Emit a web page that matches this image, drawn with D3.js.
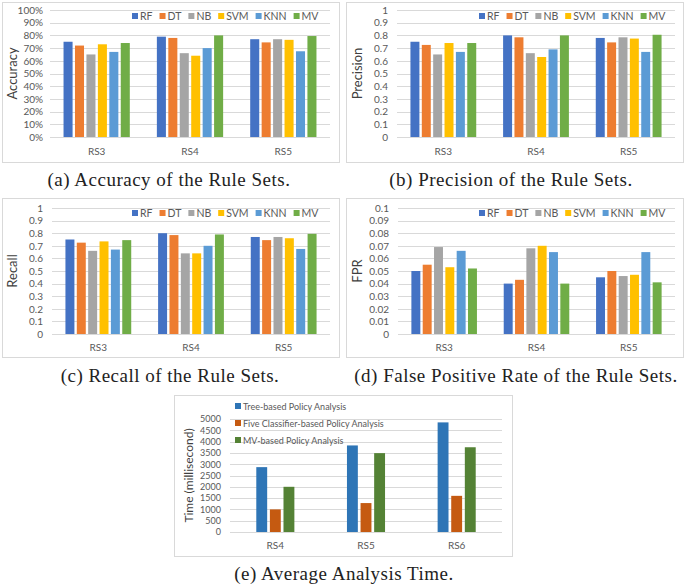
<!DOCTYPE html>
<html><head><meta charset="utf-8">
<script src="https://cdn.jsdelivr.net/npm/d3@7"></script>
<style>
html,body{margin:0;padding:0;background:#fff;}
svg{display:block;}
</style></head>
<body><svg id="chart" width="685" height="588"></svg>
<script>
// ---------- data ----------
const ruleSets = ["RS3", "RS4", "RS5"];
const classifiers = ["RF", "DT", "NB", "SVM", "KNN", "MV"];
const accuracy = [
  [0.75, 0.72, 0.65, 0.73, 0.67, 0.74],
  [0.79, 0.78, 0.66, 0.64, 0.70, 0.80],
  [0.77, 0.745, 0.77, 0.765, 0.675, 0.795]
];
const precision = [
  [0.75, 0.725, 0.65, 0.74, 0.67, 0.74],
  [0.80, 0.785, 0.66, 0.63, 0.69, 0.80],
  [0.78, 0.745, 0.785, 0.775, 0.67, 0.805]
];
const recall = [
  [0.75, 0.725, 0.66, 0.735, 0.67, 0.745],
  [0.80, 0.785, 0.64, 0.64, 0.70, 0.79],
  [0.77, 0.745, 0.77, 0.76, 0.675, 0.795]
];
const fpr = [
  [0.050, 0.055, 0.069, 0.053, 0.066, 0.052],
  [0.040, 0.043, 0.068, 0.070, 0.065, 0.040],
  [0.045, 0.050, 0.046, 0.047, 0.065, 0.041]
];
const timeSets = ["RS4", "RS5", "RS6"];
const timeMethods = ["Tree-based Policy Analysis", "Five Classifier-based Policy Analysis", "MV-based Policy Analysis"];
const timeValues = [
  [2870, 1000, 2000],
  [3830, 1280, 3490],
  [4850, 1600, 3750]
];
const ticksPct = [0, 0.1, 0.2, 0.3, 0.4, 0.5, 0.6, 0.7, 0.8, 0.9, 1];
const ticksFpr = [0, 0.01, 0.02, 0.03, 0.04, 0.05, 0.06, 0.07, 0.08, 0.09, 0.1];
const ticksTime = [0, 500, 1000, 1500, 2000, 2500, 3000, 3500, 4000, 4500, 5000];
const captions = [
  "(a) Accuracy of the Rule Sets.",
  "(b) Precision of the Rule Sets.",
  "(c) Recall of the Rule Sets.",
  "(d) False Positive Rate of the Rule Sets.",
  "(e) Average Analysis Time."
];

// ---------- styles ----------
const clsColors = ["#4472C4", "#ED7D31", "#A5A5A5", "#FFC000", "#5B9BD5", "#70AD47"];
const timeColors = ["#2E75B6", "#C55A11", "#548235"];
const FONT = "Lato, 'Open Sans', sans-serif";
const SERIF = "'Liberation Serif', 'DejaVu Serif', serif";
const TXT = "#595959";
const GRID = "#D9D9D9";

const svg = d3.select("#chart");

function panel(o) {
  const g = svg.append("g");
  // frame
  g.append("rect").attr("x", o.box[0] + 0.5).attr("y", o.box[1] + 0.5)
    .attr("width", o.box[2]).attr("height", o.box[3])
    .attr("fill", "#fff").attr("stroke", "#D9D9D9").attr("stroke-width", 1);

  const x0 = d3.scaleBand().domain(o.cats).range([o.px0, o.px1]).paddingInner(0).paddingOuter(0);
  const inner = x0.bandwidth() * o.groupFrac;
  const x1 = d3.scaleBand().domain(o.series).range([(x0.bandwidth() - inner) / 2, (x0.bandwidth() + inner) / 2])
    .paddingInner(o.barGap).paddingOuter(0);
  const y = d3.scaleLinear().domain(o.domain).range([o.py1, o.py0]);

  // gridlines
  g.append("g").selectAll("line").data(o.ticks).join("line")
    .attr("x1", o.px0).attr("x2", o.px1)
    .attr("y1", d => Math.round(y(d)) + 0.5).attr("y2", d => Math.round(y(d)) + 0.5)
    .attr("stroke", GRID).attr("stroke-width", 1);

  // y axis labels
  const ya = d3.axisLeft(y).tickValues(o.ticks).tickFormat(o.fmt).tickSize(0).tickPadding(0);
  const yg = g.append("g").attr("transform", `translate(${o.ylabX},0)`).call(ya);
  yg.select(".domain").remove();
  yg.selectAll("text").attr("fill", TXT).style("font-family", FONT).style("font-size", o.tickSize + "px");

  // x axis labels
  const xa = d3.axisBottom(x0).tickSize(0).tickPadding(0);
  const xg = g.append("g").attr("transform", `translate(0,${o.xlabY})`).call(xa);
  xg.select(".domain").remove();
  xg.selectAll("text").attr("fill", TXT).style("font-family", FONT).style("font-size", o.catSize + "px");

  // bars
  g.append("g").selectAll("g").data(o.values).join("g")
    .attr("transform", (d, i) => `translate(${x0(o.cats[i])},0)`)
    .selectAll("rect").data(d => d.map((v, j) => ({ v, j }))).join("rect")
    .attr("x", d => x1(o.series[d.j])).attr("width", x1.bandwidth())
    .attr("y", d => y(d.v)).attr("height", d => y(o.domain[0]) - y(d.v))
    .attr("fill", d => o.colors[d.j]);

  // y title
  g.append("text").attr("transform", `translate(${o.titleX},${(o.py0 + o.py1) / 2}) rotate(-90)`)
    .attr("text-anchor", "middle").attr("dominant-baseline", "central")
    .attr("fill", "#404040").style("font-family", FONT).style("font-size", o.titleSize + "px")
    .text(o.title);

  // legend
  if (o.legend === "row") {
    let lx = o.legX;
    o.series.forEach((s, i) => {
      g.append("rect").attr("x", lx).attr("y", o.legY - 3).attr("width", 6).attr("height", 6).attr("fill", o.colors[i]);
      const t = g.append("text").attr("x", lx + 8).attr("y", o.legY).attr("dominant-baseline", "central")
        .attr("fill", TXT).style("font-family", FONT).style("font-size", o.legSize + "px").text(s);
      lx += 8 + t.node().getComputedTextLength() + o.legGap;
    });
  } else {
    o.series.forEach((s, i) => {
      const ly = o.legY + i * o.legStep;
      g.append("rect").attr("x", o.legX).attr("y", ly - 3).attr("width", 6).attr("height", 6).attr("fill", o.colors[i]);
      g.append("text").attr("x", o.legX + 8).attr("y", ly).attr("dominant-baseline", "central")
        .attr("fill", TXT).style("font-family", FONT).style("font-size", o.legSize + "px").text(s);
    });
  }
}

const pct = d3.format(".0%");
const plain = d => (Math.round(d * 100) / 100).toString();
const plainF = d => (Math.round(d * 1000) / 1000).toString();

const common = { cats: ruleSets, series: classifiers, colors: clsColors, groupFrac: 0.71, barGap: 0.21,
  tickSize: 10, catSize: 10, titleSize: 13, legSize: 10.5, legGap: 7, legend: "row" };

panel(Object.assign({}, common, { box: [2, 2, 337, 160], px0: 50, px1: 330, py0: 10, py1: 137,
  ylabX: 43, xlabY: 148, titleX: 12, values: accuracy, domain: [0, 1], ticks: ticksPct, fmt: pct,
  title: "Accuracy", legX: 132, legY: 16 }));
panel(Object.assign({}, common, { box: [346, 2, 337, 160], px0: 397, px1: 675, py0: 10, py1: 137,
  ylabX: 388, xlabY: 148, titleX: 357, values: precision, domain: [0, 1], ticks: ticksPct, fmt: plain,
  title: "Precision", legX: 479, legY: 16 }));
panel(Object.assign({}, common, { box: [2, 198, 337, 159], px0: 52, px1: 330, py0: 208, py1: 334,
  ylabX: 43, xlabY: 344, titleX: 12, values: recall, domain: [0, 1], ticks: ticksPct, fmt: plain,
  title: "Recall", legX: 132, legY: 213 }));
panel(Object.assign({}, common, { box: [346, 198, 337, 159], px0: 398, px1: 675, py0: 208, py1: 334,
  ylabX: 389, xlabY: 344, titleX: 357, values: fpr, domain: [0, 0.1], ticks: ticksFpr, fmt: plainF,
  title: "FPR", legX: 479, legY: 213 }));
panel({ cats: timeSets, series: timeMethods, colors: timeColors, groupFrac: 0.42, barGap: 0.2,
  tickSize: 9, catSize: 10, titleSize: 12, legSize: 9, legend: "col", legStep: 17,
  box: [174, 395, 338, 161], px0: 230, px1: 502, py0: 419, py1: 532,
  ylabX: 221, xlabY: 542, titleX: 188, values: timeValues, domain: [0, 5000], ticks: ticksTime, fmt: d => d,
  title: "Time (millisecond)", legX: 235, legY: 406 });

// captions
const capPos = [[169, 186], [511, 186], [170, 382], [516, 382], [344, 580]];
captions.forEach((c, i) => {
  svg.append("text").attr("x", capPos[i][0]).attr("y", capPos[i][1]).attr("text-anchor", "middle")
    .attr("fill", "#222").style("font-family", SERIF).style("font-size", "19px")
    .style("letter-spacing", "0.5px").text(c);
});
</script>
</body></html>
